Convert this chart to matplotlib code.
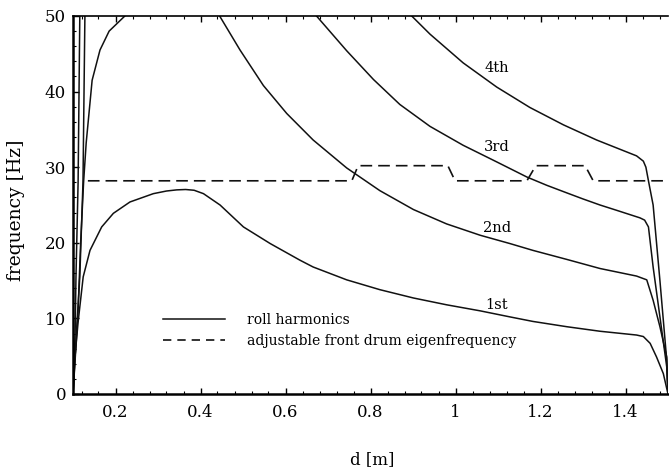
import matplotlib
matplotlib.use('Agg')
import matplotlib.pyplot as plt
from matplotlib.lines import Line2D
from matplotlib.ticker import MultipleLocator

# ---- data ----
h1_x = [0.1, 0.104, 0.112, 0.124, 0.14, 0.1675, 0.195, 0.234, 0.289, 0.32, 0.344, 0.365, 0.385,
        0.407, 0.446, 0.501, 0.564, 0.634, 0.665, 0.744, 0.822, 0.901, 0.979, 1.058, 1.128,
        1.182, 1.262, 1.340, 1.426, 1.442, 1.458, 1.473, 1.489, 1.5]
h1_y = [0, 4.5, 9.5, 15.5, 19.0, 22.1, 23.9, 25.4, 26.5, 26.85, 27.0, 27.05, 26.95,
        26.5, 25.0, 22.1, 19.9, 17.7, 16.8, 15.1, 13.8, 12.7, 11.8, 11.0, 10.2,
        9.6, 8.9, 8.3, 7.8, 7.6, 6.7, 4.9, 2.7, 0]

h2_left_x = [0.1, 0.105, 0.112, 0.118, 0.125, 0.131, 0.145, 0.1635, 0.185, 0.222]
h2_left_y = [0, 4.5, 11.1, 20.0, 28.1, 33.2, 41.5, 45.5, 48.0, 50]
h2_right_x = [0.445, 0.493, 0.548, 0.603, 0.665, 0.744, 0.822, 0.901, 0.979, 1.058, 1.128,
              1.182, 1.262, 1.340, 1.426, 1.45, 1.465, 1.481, 1.497, 1.5]
h2_right_y = [50, 45.5, 40.8, 37.1, 33.6, 29.9, 26.9, 24.4, 22.5, 21.0, 19.9,
              19.0, 17.8, 16.6, 15.6, 15.1, 12.4, 8.9, 4.9, 0]

h3_left_x = [0.1, 0.108, 0.116, 0.1235, 0.128]
h3_left_y = [0, 8, 15.5, 28, 50]
h3_right_x = [0.673, 0.744, 0.807, 0.869, 0.94, 1.018, 1.097, 1.168, 1.215, 1.262, 1.30,
              1.34, 1.379, 1.434, 1.445, 1.454, 1.465, 1.481, 1.497, 1.5]
h3_right_y = [50, 45.4, 41.6, 38.3, 35.4, 32.9, 30.7, 28.7, 27.6, 26.6, 25.8,
              25.0, 24.3, 23.3, 23.0, 22.1, 16.8, 10.2, 3.6, 0]

h4_left_x = [0.1, 0.105, 0.107, 0.112, 0.116]
h4_left_y = [0, 8, 15.5, 28, 50]
h4_right_x = [0.897, 0.94, 1.018, 1.097, 1.175, 1.254, 1.332, 1.426, 1.442, 1.448, 1.454,
              1.465, 1.481, 1.497, 1.5]
h4_right_y = [50, 47.6, 43.8, 40.6, 37.9, 35.6, 33.6, 31.5, 30.8, 30.0, 28.2,
              25.0, 15.0, 4.5, 0]

drum_x = [0.135, 0.756, 0.771, 0.982, 0.999, 1.168, 1.189, 1.305, 1.324, 1.5]
drum_y = [28.2, 28.2, 30.2, 30.2, 28.2, 28.2, 30.2, 30.2, 28.2, 28.2]

curve_labels = ['4th', '3rd', '2nd', '1st']
label_x = [1.097, 1.097, 1.097, 1.097]
label_y = [43.1, 32.7, 21.9, 11.8]

xticks = [0.2, 0.4, 0.6, 0.8, 1.0, 1.2, 1.4]
xtick_labels = ['0.2', '0.4', '0.6', '0.8', '1', '1.2', '1.4']
yticks = [0, 10, 20, 30, 40, 50]
legend_labels = ['roll harmonics', 'adjustable front drum eigenfrequency']

# ---- figure ----
plt.rcParams['font.family'] = ['DejaVu Serif']
fig = plt.figure(figsize=(6.69, 4.70), dpi=100)
ax = fig.add_axes([73 / 669, 76 / 470, 595 / 669, 378 / 470])

lc = '#111111'
lw = 1.1
for xs, ys in [(h1_x, h1_y), (h2_left_x, h2_left_y), (h2_right_x, h2_right_y),
               (h3_left_x, h3_left_y), (h3_right_x, h3_right_y),
               (h4_left_x, h4_left_y), (h4_right_x, h4_right_y)]:
    ax.plot(xs, ys, color=lc, lw=lw, solid_joinstyle='round', clip_on=True)

ax.plot(drum_x, drum_y, color=lc, lw=1.2, dashes=(7, 3.6))

for t, lx, ly in zip(curve_labels, label_x, label_y):
    ax.text(lx, ly, t, ha='center', va='center', fontsize=10.5)

ax.set_xlim(0.1, 1.5)
ax.set_ylim(0, 50)
ax.set_xticks(xticks)
ax.set_xticklabels(xtick_labels)
ax.set_yticks(yticks)
ax.xaxis.set_minor_locator(MultipleLocator(0.04))
ax.yaxis.set_minor_locator(MultipleLocator(2))
ax.tick_params(which='both', direction='in', top=True, right=False, labelsize=12)
ax.tick_params(which='major', length=4, width=1)
ax.tick_params(which='minor', length=2, width=0.8)
ax.tick_params(axis='x', pad=7)
ax.tick_params(axis='y', pad=5)

ax.spines['right'].set_visible(False)
ax.spines['left'].set_linewidth(1.8)
ax.spines['bottom'].set_linewidth(1.8)
ax.spines['top'].set_linewidth(1.2)

ax.set_xlabel('d [m]', fontsize=12)
ax.set_ylabel('frequency [Hz]', fontsize=13.5)
ax.xaxis.set_label_coords(0.5025, -0.15)
ax.yaxis.set_label_coords(-0.08, 0.487)

handles = [Line2D([], [], color=lc, lw=lw),
           Line2D([], [], color=lc, lw=1.2, dashes=(5, 3.6))]
ax.legend(handles, legend_labels, loc='upper left', bbox_to_anchor=(0.1513, 0.215),
          frameon=False, fontsize=10, borderpad=0, borderaxespad=0,
          handlelength=4.46, handletextpad=1.58, labelspacing=0.5)

fig.savefig('out.png', dpi=100)
